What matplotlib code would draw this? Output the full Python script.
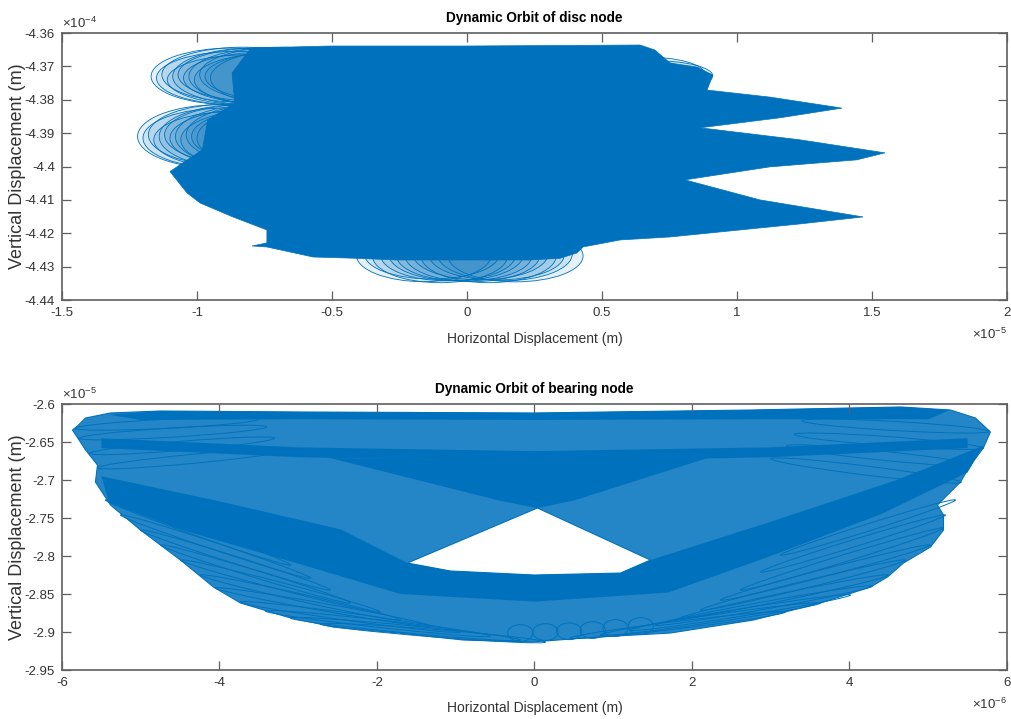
import math
import matplotlib
matplotlib.use('Agg')
import matplotlib.pyplot as plt
from matplotlib.patches import Polygon, Ellipse, PathPatch
from matplotlib.path import Path
from matplotlib.ticker import FuncFormatter

# ---- disc node orbit (x in 1e-5 m, y in 1e-4 m) ----
# outline of the dense core of the orbit
disc_x = [-0.80, -0.507, 0.0, 0.641, 0.696, 0.752, 0.852, 0.911, 0.889, 1.122, 1.389,
          1.159, 0.863, 1.233, 1.548, 1.444, 1.122, 0.807, 1.085, 1.467, 1.233, 0.937,
          0.752, 0.567, 0.43, 0.407, 0.344, 0.233, 0.0, -0.259, -0.407, -0.570, -0.741,
          -0.796, -0.741, -0.741, -0.867, -0.989, -1.037, -1.10, -0.98, -0.96, -0.86, -0.87]
disc_y = [-4.3645, -4.3639, -4.3639, -4.3636, -4.3651, -4.369, -4.3702, -4.3726, -4.3771,
          -4.3792, -4.3825, -4.3854, -4.3884, -4.392, -4.3959, -4.398, -4.4001, -4.404,
          -4.41, -4.4151, -4.4172, -4.4196, -4.4211, -4.422, -4.4241, -4.4259, -4.4275,
          -4.428, -4.428, -4.428, -4.4275, -4.4271, -4.4241, -4.4238, -4.4229, -4.419,
          -4.4151, -4.4109, -4.4079, -4.4015, -4.395, -4.386, -4.381, -4.372]

# loops seen at the edges of the disc orbit: centre, width, height
disc_loop_cx = [-0.87, -0.85, -0.83, -0.81, -0.79, -0.77, -0.75, -0.73, -0.71, -0.69, -0.67, -0.65,
                -0.92, -0.90, -0.88, -0.86, -0.84, -0.82, -0.80, -0.78, -0.76, -0.74, -0.72, -0.70,
                -0.16, -0.13, -0.10, -0.07, -0.04, -0.01, 0.02, 0.05, 0.08, 0.11, 0.14, 0.18,
                0.60, 0.63, 0.66, 0.69]
disc_loop_cy = [-4.373, -4.3735, -4.3725, -4.374, -4.373, -4.3725, -4.3735, -4.373, -4.374,
                -4.3725, -4.373, -4.3735,
                -4.391, -4.3915, -4.3905, -4.392, -4.391, -4.3905, -4.3915, -4.391, -4.392,
                -4.3905, -4.391, -4.3915,
                -4.4265, -4.4262, -4.4268, -4.4265, -4.4262, -4.4268, -4.4265, -4.4262,
                -4.4268, -4.4265, -4.4262, -4.4268,
                -4.3726, -4.373, -4.3722, -4.3728]
disc_loop_w = [0.60] * 12 + [0.60] * 12 + [0.50] * 12 + [0.44] * 4
disc_loop_h = [0.017, 0.016, 0.0165, 0.015, 0.017, 0.016, 0.0155, 0.017, 0.016, 0.0165, 0.015, 0.017,
               0.019, 0.018, 0.0185, 0.017, 0.019, 0.018, 0.0175, 0.019, 0.018, 0.0185, 0.017, 0.019,
               0.016, 0.015, 0.016, 0.0155, 0.016, 0.015, 0.016, 0.0155, 0.016, 0.015, 0.016, 0.0155,
               0.010, 0.009, 0.010, 0.009]

# ---- bearing node orbit (x in 1e-6 m, y in 1e-5 m) ----
bear_x = [-5.803, -5.70, -5.384, -4.749, -2.971, 0.0, 2.743, 4.648, 5.283, 5.60, 5.79,
          5.70, 5.537, 5.41, 5.244, 5.117, 5.194, 5.194, 5.029, 4.686, 4.483, 4.267,
          3.632, 2.781, 1.727, 0.8, -0.051, -0.902, -1.74, -2.552, -3.137, -3.733,
          -4.076, -4.495, -5.003, -5.384, -5.575, -5.549, -5.70, -5.867]
bear_y = [-2.6289, -2.6184, -2.6118, -2.6092, -2.6105, -2.6118, -2.6079, -2.6039,
          -2.6079, -2.6184, -2.6368, -2.6579, -2.6803, -2.7026, -2.7197, -2.7329,
          -2.7461, -2.7658, -2.7882, -2.8092, -2.8276, -2.8408, -2.8618, -2.8842,
          -2.9013, -2.9066, -2.9132, -2.9105, -2.9013, -2.8934, -2.8803, -2.8618,
          -2.8408, -2.8053, -2.7658, -2.7329, -2.7026, -2.6803, -2.6605, -2.6342]
# empty region under the crossing of the orbit
hole_x = [0.038, -1.613, -1.067, 0.0, 1.092, 1.473]
hole_y = [-2.7368, -2.8092, -2.8197, -2.825, -2.8224, -2.8053]

# bands where the trace is packed solid
top_band_x = [-5.4, -4.749, -2.971, 0.0, 2.743, 4.648, 5.283, 5.0, 3.0, 0.0, -3.0, -5.0]
top_band_y = [-2.614, -2.6092, -2.6105, -2.6118, -2.6079, -2.6039, -2.6079, -2.620, -2.620,
              -2.621, -2.620, -2.621]
mid_band_x = [-5.5, -3.0, 0.0, 3.0, 5.5, 5.5, 3.0, 0.0, -3.0, -5.5]
mid_band_y = [-2.645, -2.657, -2.662, -2.657, -2.645, -2.658, -2.670, -2.676, -2.670, -2.658]
cross_x = [-2.6, 0.0, 2.2, 0.5, 0.038, -0.45]
cross_y = [-2.671, -2.675, -2.671, -2.727, -2.737, -2.727]
v_band_x = [-5.5, -4.0, -2.46, -1.613, -1.067, 0.0, 1.092, 1.473, 3.0, 4.6, 5.7,
            5.5, 4.4, 3.0, 1.7, 0.0, -1.7, -3.0, -4.5, -5.4]
v_band_y = [-2.695, -2.728, -2.765, -2.8092, -2.8197, -2.825, -2.8224, -2.8053, -2.755, -2.70,
            -2.655, -2.69, -2.745, -2.80, -2.848, -2.86, -2.85, -2.81, -2.765, -2.73]

# single loops of the bearing trace: tip to tip, and thickness
loop_x1 = [-5.003, -4.749, -4.495, -4.241, -4.051, -3.733, -3.416, -3.098, -2.717, -5.257, -5.448,
           5.194, 5.029, 4.711, 4.495, 4.292, 4.013, 3.632, 3.187, 5.219, 5.346,
           -0.02, 0.28, 0.58, 0.87, 1.19, -0.34,
           -5.83, -5.78, -5.65, -5.55, 5.77, 5.70, 5.55, 5.42]
loop_y1 = [-2.7658, -2.7855, -2.8053, -2.825, -2.8421, -2.8605, -2.8724, -2.8816, -2.8895, -2.746,
           -2.7263,
           -2.7632, -2.7855, -2.8053, -2.825, -2.8395, -2.8513, -2.8618, -2.8737, -2.7461, -2.7263,
           -2.90, -2.899, -2.8974, -2.8947, -2.8921, -2.9013,
           -2.632, -2.645, -2.665, -2.684, -2.636, -2.658, -2.680, -2.703]
loop_x2 = [-2.59, -2.337, -1.956, -1.702, -1.321, -0.94, -0.559, -0.178, 0.14, -2.844, -3.098,
           2.616, 2.362, 2.108, 1.854, 1.537, 1.219, 0.838, 0.457, 2.87, 3.124,
           0.30, 0.60, 0.90, 1.19, 1.51, -0.02,
           -3.5, -3.4, -3.3, -3.1, 3.4, 3.3, 3.2, 3.0]
loop_y2 = [-2.8447, -2.8618, -2.8737, -2.8842, -2.8921, -2.90, -2.9053, -2.9105, -2.9132, -2.829,
           -2.8118,
           -2.8447, -2.8579, -2.8711, -2.8816, -2.8908, -2.8974, -2.9039, -2.9079, -2.8211, -2.7987,
           -2.90, -2.899, -2.8974, -2.8947, -2.8921, -2.9013,
           -2.620, -2.630, -2.645, -2.660, -2.622, -2.640, -2.655, -2.672]
loop_h = [0.010] * 21 + [0.022] * 6 + [0.012] * 8

blue = '#0072BD'
loop_face = (0.0, 0.447, 0.741, 0.10)
grey = '#5f5f5f'
txt = '#333333'

plt.rcParams['font.family'] = ['Liberation Sans', 'DejaVu Sans']
plt.rcParams['mathtext.fontset'] = 'custom'
plt.rcParams['mathtext.rm'] = 'Liberation Sans'
plt.rcParams['mathtext.it'] = 'Liberation Sans'

fig = plt.figure(figsize=(10.11, 7.19), dpi=100)
ax1 = fig.add_axes([0.0613, 0.5827, 0.9347, 0.3714])
ax2 = fig.add_axes([0.0613, 0.0681, 0.9347, 0.3700])


def style(ax):
    ax.tick_params(direction='in', length=6.5, width=0.9, color=grey, labelcolor=txt,
                   labelsize=9.5, top=True, right=True, pad=5)
    for s in ax.spines.values():
        s.set_color(grey)
        s.set_linewidth(1.2)
    ax.xaxis.set_major_formatter(FuncFormatter(lambda v, p: '%g' % round(v, 4)))
    ax.yaxis.set_major_formatter(FuncFormatter(lambda v, p: '%g' % round(v, 4)))
    ax.set_xlabel('Horizontal Displacement (m)', fontsize=10, color=txt)
    ax.set_ylabel('Vertical Displacement (m)', fontsize=13, color=txt)
    ax.xaxis.set_label_coords(0.5, -0.118)
    ax.yaxis.set_label_coords(-0.038, 0.5)


def poly(ax, xs, ys, **kw):
    ax.add_patch(Polygon(list(zip(xs, ys)), closed=True, **kw))


# top panel
poly(ax1, disc_x, disc_y, facecolor=blue, edgecolor=blue, linewidth=0.5)
for cx, cy, w, h in zip(disc_loop_cx, disc_loop_cy, disc_loop_w, disc_loop_h):
    ax1.add_patch(Ellipse((cx, cy), w, h, facecolor=loop_face, edgecolor=blue, linewidth=0.6))
ax1.set_xlim(-1.5, 2)
ax1.set_ylim(-4.44, -4.36)
ax1.set_xticks([-1.5, -1, -0.5, 0, 0.5, 1, 1.5, 2])
ax1.set_yticks([-4.44, -4.43, -4.42, -4.41, -4.4, -4.39, -4.38, -4.37, -4.36])
style(ax1)
ax1.set_title('Dynamic Orbit of disc node', fontsize=9.8, fontweight='bold', pad=8)
ax1.text(0, 1.008, r'$\times10^{-4}$', transform=ax1.transAxes, fontsize=9.5,
         color=txt, ha='left', va='bottom')
ax1.text(1, -0.1, r'$\times10^{-5}$', transform=ax1.transAxes, fontsize=9.5,
         color=txt, ha='right', va='top')

# bottom panel: whole orbit region with the empty hole cut out
verts = list(zip(bear_x, bear_y)) + [(bear_x[0], bear_y[0])]
codes = [Path.MOVETO] + [Path.LINETO] * (len(bear_x) - 1) + [Path.CLOSEPOLY]
verts += list(zip(hole_x, hole_y)) + [(hole_x[0], hole_y[0])]
codes += [Path.MOVETO] + [Path.LINETO] * (len(hole_x) - 1) + [Path.CLOSEPOLY]
ax2.add_patch(PathPatch(Path(verts, codes), facecolor=blue, alpha=0.86,
                        edgecolor='none'))
ax2.add_patch(PathPatch(Path(verts, codes), facecolor='none', edgecolor=blue, linewidth=0.8))
for xs, ys in [(top_band_x, top_band_y), (mid_band_x, mid_band_y),
               (cross_x, cross_y), (v_band_x, v_band_y)]:
    poly(ax2, xs, ys, facecolor=blue, edgecolor='none')

for x1, y1, x2, y2, h in zip(loop_x1, loop_y1, loop_x2, loop_y2, loop_h):
    ang = math.degrees(math.atan2(y2 - y1, x2 - x1))
    ln = math.hypot(x2 - x1, y2 - y1)
    ax2.add_patch(Ellipse(((x1 + x2) / 2, (y1 + y2) / 2), ln, h, angle=ang,
                          fill=False, edgecolor=blue, linewidth=0.7))

ax2.set_xlim(-6, 6)
ax2.set_ylim(-2.95, -2.6)
ax2.set_xticks([-6, -4, -2, 0, 2, 4, 6])
ax2.set_yticks([-2.95, -2.9, -2.85, -2.8, -2.75, -2.7, -2.65, -2.6])
style(ax2)
ax2.set_title('Dynamic Orbit of bearing node', fontsize=9.8, fontweight='bold', pad=8)
ax2.text(0, 1.008, r'$\times10^{-5}$', transform=ax2.transAxes, fontsize=9.5,
         color=txt, ha='left', va='bottom')
ax2.text(1, -0.1, r'$\times10^{-6}$', transform=ax2.transAxes, fontsize=9.5,
         color=txt, ha='right', va='top')

fig.savefig('out.png', dpi=100)
